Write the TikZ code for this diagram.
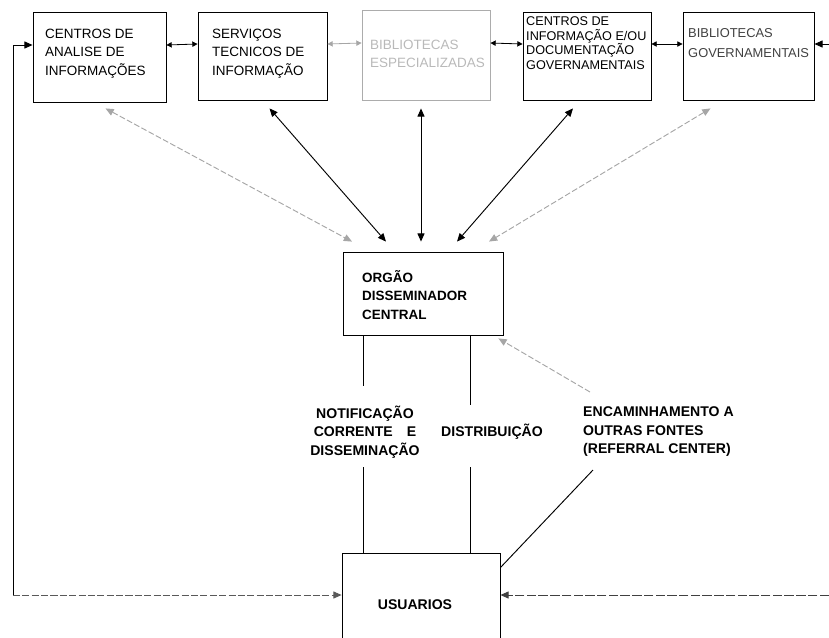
\documentclass[tikz,border=0pt]{standalone}
\usepackage{fontspec}
\setmainfont{Liberation Sans}
\usetikzlibrary{arrows.meta,calc}

\begin{document}
\begin{tikzpicture}[x=0.03cm, y=-0.03cm,
        caixa/.style={draw, line width=0.7pt, inner sep=0pt},
        rotulo/.style={anchor=west, inner sep=0pt, align=left, font=\fontsize{11.5}{15.7}\selectfont},
        texto/.style={inner sep=0pt, font=\bfseries\fontsize{12}{15.8}\selectfont},
        seta/.style={line width=0.8pt, -{Triangle[length=7pt,width=6pt]}},
        dupla/.style={line width=0.8pt, {Triangle[length=7pt,width=6pt]}-{Triangle[length=7pt,width=6pt]}},
        mini/.style={line width=0.7pt, {Triangle[length=4.5pt,width=4.5pt]}-{Triangle[length=4.5pt,width=4.5pt]}},
        fraca/.style={gray!70, dash pattern=on 5pt off 2pt}]
        \useasboundingbox (0,0) rectangle (829,638);

        \node[caixa, minimum width=3.99cm, minimum height=2.7cm] (c1) at (99.5,57) {};
        \node[caixa, minimum width=3.87cm, minimum height=2.64cm] (c2) at (262.5,56) {};
        \node[caixa, gray!65, minimum width=3.84cm, minimum height=2.7cm] (c3) at (426,55) {};
        \node[caixa, minimum width=3.84cm, minimum height=2.64cm] (c4) at (587,56) {};
        \node[caixa, minimum width=3.93cm, minimum height=2.64cm] (c5) at (748.5,56) {};
        \node[caixa, minimum width=4.8cm, minimum height=2.49cm] (org) at (423,293.5) {};
        \node[caixa, minimum width=4.74cm, minimum height=3.21cm] (usu) at (421,606.5) {};

        \node[rotulo] (t1) at (45,53.5) {CENTROS DE\\ANALISE DE\\INFORMAÇÕES};
        \node[rotulo] (t2) at (212,53.5) {SERVIÇOS\\TECNICOS DE\\INFORMAÇÃO};
        \node[rotulo, gray!55, font=\fontsize{11.5}{15.3}\selectfont] (t3) at (370,54) {BIBLIOTECAS\\ESPECIALIZADAS};
        \node[rotulo, font=\fontsize{10.8}{12.5}\selectfont] (t4) at (526,43) {CENTROS DE\\INFORMAÇÃO E/OU\\DOCUMENTAÇÃO\\GOVERNAMENTAIS};
        \node[rotulo, black!75, font=\fontsize{11}{17}\selectfont] (t5) at (688,43) {BIBLIOTECAS\\GOVERNAMENTAIS};
        \node[texto, anchor=west, align=left, font=\bfseries\fontsize{11.5}{15.6}\selectfont] (torg) at (362,295) {ORGÃO\\DISSEMINADOR\\CENTRAL};
        \node[texto] (tusu) at (415,605) {USUARIOS};

        \node[texto, align=center] (notif) at (365,432) {NOTIFICAÇÃO\\CORRENTE\quad E\\DISSEMINAÇÃO};
        \node[texto] (dist) at (492,432) {DISTRIBUIÇÃO};
        \node[texto, anchor=west, align=left] (enc) at (583,432) {ENCAMINHAMENTO A\\OUTRAS FONTES\\(REFERRAL CENTER)};

        % entre as caixas de cima
        \draw[mini] ($(c1.east)+(0,-12)$) -- ($(c2.west)+(0,-12)$);
        \draw[mini, gray!70] ($(c2.east)+(0,-12)$) -- ($(c3.west)+(0,-12)$);
        \draw[mini] ($(c3.east)+(0,-12)$) -- ($(c4.west)+(0,-12)$);
        \draw[mini] ($(c4.east)+(0,-12)$) -- ($(c5.west)+(0,-12)$);

        % caixas <-> orgao
        \draw[dupla, fraca] ($(c1.south)+(6,6)$) -- ($(org.north)+(-71,-10)$);
        \draw[dupla] ($(c2.south)+(7,8)$) -- ($(org.north)+(-37,-10)$);
        \draw[dupla] ($(c3.south)+(-5,8)$) -- ($(org.north)+(-2,-10)$);
        \draw[dupla] ($(c4.south)+(-14,8)$) -- ($(org.north)+(34,-10)$);
        \draw[dupla, fraca] ($(c5.south)+(-38,8)$) -- ($(org.north)+(66,-10)$);

        % orgao -> usuarios
        \coordinate (n1) at (363,386);
        \coordinate (n2) at (363,467);
        \coordinate (d1) at (470,405);
        \coordinate (d2) at (470,467);
        \draw[line width=0.8pt] (org.south -| n1) -- (n1);
        \draw[line width=0.8pt] (n2) -- (n2 |- usu.north);
        \draw[line width=0.8pt] (org.south -| d1) -- (d1);
        \draw[line width=0.8pt] (d2) -- (d2 |- usu.north);

        \coordinate (e1) at (590,392);
        \coordinate (e2) at (593,470);
        \draw[seta, fraca] (e1) -- ($(org.south east)+(-5,3)$);
        \draw[line width=0.8pt] (e2) -- ($(usu.north east)+(0,15)$);

        % laterais
        \coordinate (lc) at (13,595);
        \coordinate (rt) at (829,44);
        \coordinate (rb) at (829,595);
        \draw[seta] (lc) |- ($(c1.west)+(0,-12)$);
        \draw[seta, black!65, dash pattern=on 6pt off 2pt] (lc) -- (lc -| usu.west);
        \draw[seta] (rt) -- (rt -| c5.east);
        \draw[seta, black!75, dash pattern=on 8pt off 2pt] (rb) -- (rb -| usu.east);
    \end{tikzpicture}
\end{document}
